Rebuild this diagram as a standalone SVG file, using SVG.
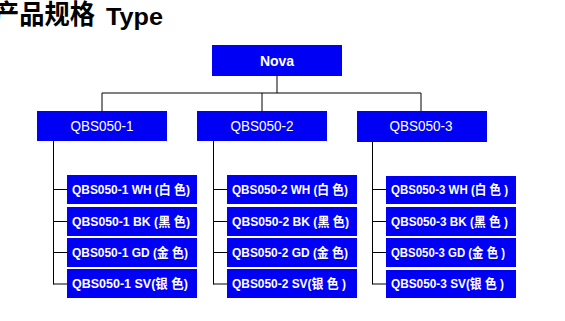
<svg xmlns="http://www.w3.org/2000/svg" width="565" height="321" viewBox="0 0 565 321">
<style>
.box{fill:#0000F5;}
.t{fill:#fff;font-family:"Liberation Sans",Arial,"Noto Sans CJK SC",sans-serif;}
.p{font-size:14px;text-anchor:middle;}
.c{font-size:13px;font-weight:bold;}
.ln{stroke:#000;stroke-width:1;fill:none;}
</style>
<rect width="565" height="321" fill="#fff"/>
<g id="title">
<text x="-6" y="24" font-family="'Noto Sans CJK SC',sans-serif" font-size="27" font-weight="bold" textLength="101" lengthAdjust="spacingAndGlyphs">产品规格</text>
<text x="106" y="25" font-family="'Liberation Sans',Arial,sans-serif" font-size="24" font-weight="bold" textLength="57" lengthAdjust="spacingAndGlyphs">Type</text>
</g>
<g id="connectors" class="ln">
<path d="M277 76V93M102 93H421M102 93V111M262 93V111M421 93V111"/>
<path d="M53.5 141V284.5M53.5 189.5H67M53.5 221.5H67M53.5 252.5H67M53.5 284H67"/>
<path d="M213.5 141V284.5M213.5 189.5H227M213.5 221.5H227M213.5 252.5H227M213.5 284H227"/>
<path d="M372.5 142V284.5M372.5 189.5H386M372.5 221.5H386M372.5 252.5H386M372.5 284H386"/>
</g>
<g id="nova"><rect class="box" x="212" y="45" width="130" height="31"/><text class="t p" x="277" y="65.5" font-weight="bold">Nova</text></g>
<g id="qbs050-1"><rect class="box" x="37" y="111" width="130" height="30"/><text class="t p" x="102" y="131" textLength="63" lengthAdjust="spacingAndGlyphs">QBS050-1</text></g>
<g id="qbs050-2"><rect class="box" x="197" y="111" width="130" height="30"/><text class="t p" x="262" y="131" textLength="63" lengthAdjust="spacingAndGlyphs">QBS050-2</text></g>
<g id="qbs050-3"><rect class="box" x="357" y="111" width="130" height="31"/><text class="t p" x="421" y="131" textLength="63" lengthAdjust="spacingAndGlyphs">QBS050-3</text></g>

<g id="qbs050-1-wh"><rect class="box" x="67" y="175" width="130" height="29"/><text class="t c" x="72" y="194" textLength="118" lengthAdjust="spacingAndGlyphs">QBS050-1 WH (白 色)</text></g>
<g id="qbs050-1-bk"><rect class="box" x="67" y="207" width="130" height="29"/><text class="t c" x="72" y="226" textLength="118" lengthAdjust="spacingAndGlyphs">QBS050-1 BK  (黑 色)</text></g>
<g id="qbs050-1-gd"><rect class="box" x="67" y="238" width="130" height="29"/><text class="t c" x="72" y="257" textLength="116" lengthAdjust="spacingAndGlyphs">QBS050-1 GD (金 色)</text></g>
<g id="qbs050-1-sv"><rect class="box" x="67" y="269" width="130" height="29"/><text class="t c" x="72" y="288" textLength="116" lengthAdjust="spacingAndGlyphs">QBS050-1 SV(银 色)</text></g>

<g id="qbs050-2-wh"><rect class="box" x="227" y="175" width="130" height="29"/><text class="t c" x="232" y="194" textLength="116" lengthAdjust="spacingAndGlyphs">QBS050-2 WH (白 色)</text></g>
<g id="qbs050-2-bk"><rect class="box" x="227" y="207" width="130" height="29"/><text class="t c" x="232" y="226" textLength="117" lengthAdjust="spacingAndGlyphs">QBS050-2 BK  (黑 色)</text></g>
<g id="qbs050-2-gd"><rect class="box" x="227" y="238" width="130" height="29"/><text class="t c" x="232" y="257" textLength="116" lengthAdjust="spacingAndGlyphs">QBS050-2 GD (金 色)</text></g>
<g id="qbs050-2-sv"><rect class="box" x="227" y="269" width="130" height="29"/><text class="t c" x="232" y="288" textLength="114" lengthAdjust="spacingAndGlyphs">QBS050-2 SV(银 色 )</text></g>

<g id="qbs050-3-wh"><rect class="box" x="386" y="176" width="130" height="28"/><text class="t c" x="391" y="194" textLength="117" lengthAdjust="spacingAndGlyphs">QBS050-3 WH (白 色 )</text></g>
<g id="qbs050-3-bk"><rect class="box" x="386" y="207" width="130" height="29"/><text class="t c" x="391" y="226" textLength="117" lengthAdjust="spacingAndGlyphs">QBS050-3 BK  (黑 色 )</text></g>
<g id="qbs050-3-gd"><rect class="box" x="386" y="238" width="130" height="29"/><text class="t c" x="391" y="257" textLength="114" lengthAdjust="spacingAndGlyphs">QBS050-3 GD (金 色 )</text></g>
<g id="qbs050-3-sv"><rect class="box" x="386" y="270" width="130" height="28"/><text class="t c" x="391" y="288" textLength="113" lengthAdjust="spacingAndGlyphs">QBS050-3 SV(银 色 )</text></g>
</svg>
